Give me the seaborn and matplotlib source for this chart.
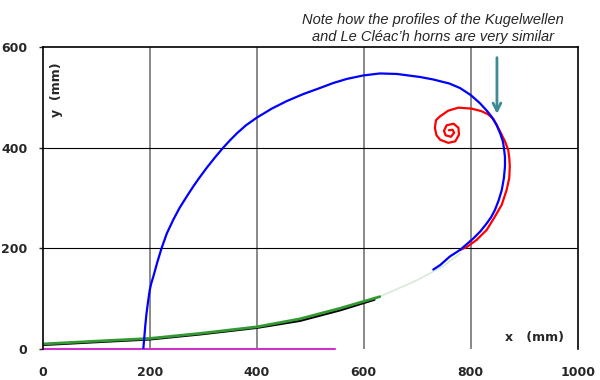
import pandas as pd
import seaborn as sns
import matplotlib.pyplot as plt

# === Data (mm) ===
# Le Cleac'h horn profile (blue)
cleach_x = [188, 190, 192, 194, 197, 200, 203, 207, 214, 222, 232, 244, 256, 269,
            280, 291, 307, 322, 337, 350, 363, 380, 400, 428, 456, 487, 518, 543,
            568, 599, 630, 662, 705, 730, 760, 780, 800, 817, 830, 839, 848, 855,
            860, 862, 864, 864, 862, 858, 852, 845, 838, 830, 818, 805, 792, 780,
            761, 743, 730]
cleach_y = [0, 25, 50, 71, 95, 117, 131, 145, 172, 200, 230, 257, 281, 303,
            321, 338, 361, 381, 400, 415, 429, 445, 460, 478, 493, 507, 519, 529,
            537, 544, 548, 547, 541, 536, 528, 519, 505, 489, 474, 462, 446, 429,
            413, 400, 382, 363, 340, 316, 295, 276, 262, 250, 234, 220, 208, 197,
            184, 167, 158]

# Kugelwellen horn profile (red spiral)
kugel_x = [780, 793, 811, 830, 845, 858, 867, 872, 873, 872, 870, 864, 856, 849,
           842, 832, 820, 802, 777, 758, 743, 735, 733, 736, 743, 758, 771, 778,
           777, 768, 755, 750, 753, 763, 769, 766, 759]
kugel_y = [197, 203, 217, 237, 263, 287, 316, 340, 363, 380, 396, 413, 430, 445,
           458, 467, 473, 478, 480, 474, 463, 455, 440, 425, 416, 410, 413, 426,
           440, 448, 445, 434, 425, 422, 430, 436, 435]

# exponential horn (green) and tractrix (black)
expo_x = [0, 107, 200, 294, 400, 481, 556, 630]
expo_y = [10, 16, 21, 31, 44, 60, 81, 104]
expo_faint_x = [630, 700, 749, 780]
expo_faint_y = [104, 137, 165, 190]
trac_x = [0, 107, 200, 294, 400, 481, 556, 620]
trac_y = [8, 14, 19, 29, 42, 56, 77, 98]

# conical / baseline (purple)
base_x = [0, 546]
base_y = [0, 0]

sns.set_style("white")
plt.rcParams['font.family'] = ['Liberation Sans', 'DejaVu Sans']

fig = plt.figure(figsize=(6, 3.8), dpi=100)
ax = fig.add_axes([0.0712, 0.0816, 0.8917, 0.7939])

ax.set_xlim(0, 1000)
ax.set_ylim(0, 600)
ax.set_xticks([0, 200, 400, 600, 800, 1000])
ax.set_yticks([0, 200, 400, 600])

# grid: grey verticals, black horizontals
for gx in [200, 400, 600, 800]:
    ax.axvline(gx, color="#808080", lw=1.3, zorder=0)
for gy in [200, 400]:
    ax.axhline(gy, color="black", lw=0.8, zorder=0)

sns.lineplot(x=base_x, y=base_y, color="#CC33CC", lw=1.5, ax=ax, clip_on=False)
sns.lineplot(x=trac_x, y=trac_y, color="black", lw=1.6, sort=False, estimator=None, ax=ax)
sns.lineplot(x=expo_x, y=expo_y, color="#339933", lw=2.0, sort=False, estimator=None, ax=ax)
sns.lineplot(x=expo_faint_x, y=expo_faint_y, color="#339933", lw=1.2, alpha=0.2,
             sort=False, estimator=None, ax=ax)
sns.lineplot(x=kugel_x, y=kugel_y, color="#FF0000", lw=1.6, sort=False, estimator=None, ax=ax)
sns.lineplot(x=cleach_x, y=cleach_y, color="#0000FF", lw=1.6, sort=False, estimator=None, ax=ax)

for side in ["left", "top", "right"]:
    ax.spines[side].set_color("black")
    ax.spines[side].set_linewidth(1.2)
ax.spines["bottom"].set_visible(False)

ax.tick_params(axis="y", left=True, length=3, width=1, pad=8, labelsize=9)
ax.tick_params(axis="x", bottom=False, length=0, pad=12, labelsize=9)
for lab in ax.get_xticklabels() + ax.get_yticklabels():
    lab.set_fontweight("bold")
    lab.set_family(["DejaVu Sans"])

ax.text(25, 515, "y  (mm)", rotation=90, ha="center", va="center",
        fontsize=9, fontweight="bold", family=["DejaVu Sans"])
ax.text(920, 22, "x   (mm)", ha="center", va="center",
        fontsize=9, fontweight="bold", family=["DejaVu Sans"])

fig.text(0.721, 0.947, "Note how the profiles of the Kugelwellen", ha="center", va="center",
         fontsize=10.5, style="italic")
fig.text(0.721, 0.903, "and Le Cl\u00e9ac\u2019h horns are very similar", ha="center", va="center",
         fontsize=10.5, style="italic")

ax.annotate("", xy=(849, 462), xytext=(849, 585),
            arrowprops=dict(arrowstyle="->", color="#3D8C95", lw=2, mutation_scale=14))

plt.savefig("out.png", dpi=100)
plt.close()
